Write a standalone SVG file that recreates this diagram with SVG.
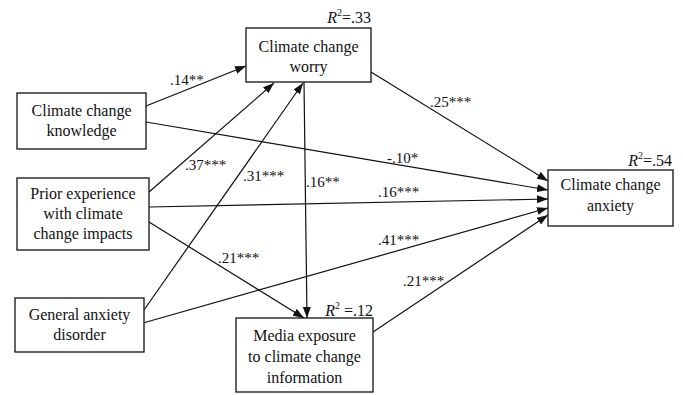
<svg xmlns="http://www.w3.org/2000/svg" width="683" height="395" viewBox="0 0 683 395">
<style>
.box{fill:#fff;stroke:#111;stroke-width:1.3}
text{font-family:'Liberation Serif','DejaVu Serif','Times New Roman',serif;fill:#111}
.t{font-size:16px;text-anchor:middle}
.lab{font-size:15px}
.r2{font-size:16px;text-anchor:end}
.c{stroke:#111;stroke-width:1.2;fill:none;marker-end:url(#ah)}
</style>
<defs>
<marker id="ah" markerUnits="userSpaceOnUse" markerWidth="11" markerHeight="8" refX="11" refY="4" orient="auto">
<path d="M0,0 L11,4 L0,8 z" fill="#111"/>
</marker>
</defs>
<rect width="683" height="395" fill="#fff"/>
<g id="connectors" font-family="Liberation Serif, DejaVu Serif, serif">
<path class="c" d="M146,106 L246,66"/>
<path class="c" d="M149,192 L274,83"/>
<path class="c" d="M144,310 L303,83"/>
<path class="c" d="M304,82 L307,318"/>
<path class="c" d="M371,72 L548,181"/>
<path class="c" d="M146,122 L548,190"/>
<path class="c" d="M149,207 L548,199"/>
<path class="c" d="M143,323 L548,208"/>
<path class="c" d="M149,222 L304,318"/>
<path class="c" d="M373,332 L548,215"/>
<text class="lab" x="170" y="85">.14**</text>
<text class="lab" x="185" y="170">.37***</text>
<text class="lab" x="243" y="181">.31***</text>
<text class="lab" x="306" y="187">.16**</text>
<text class="lab" x="430" y="107">.25***</text>
<text class="lab" x="387" y="163">-.10*</text>
<text class="lab" x="378" y="197">.16***</text>
<text class="lab" x="378" y="245">.41***</text>
<text class="lab" x="218" y="263">.21***</text>
<text class="lab" x="403" y="286">.21***</text>
</g>
<g id="worry" font-family="Liberation Serif, DejaVu Serif, serif">
<rect class="box" x="246" y="28" width="125" height="54"/>
<text class="t" x="308.5" y="52">Climate change</text>
<text class="t" x="308.5" y="72">worry</text>
<text class="r2" x="371" y="23"><tspan font-style="italic">R</tspan><tspan font-size="10" dy="-7">2</tspan><tspan dy="7">=.33</tspan></text>
</g>
<g id="knowledge" font-family="Liberation Serif, DejaVu Serif, serif">
<rect class="box" x="17" y="93" width="129" height="56"/>
<text class="t" x="81.5" y="116">Climate change</text>
<text class="t" x="81.5" y="136">knowledge</text>
</g>
<g id="prior" font-family="Liberation Serif, DejaVu Serif, serif">
<rect class="box" x="17" y="178" width="132" height="72"/>
<text class="t" x="83" y="199">Prior experience</text>
<text class="t" x="83" y="219">with climate</text>
<text class="t" x="83" y="239">change impacts</text>
</g>
<g id="gad" font-family="Liberation Serif, DejaVu Serif, serif">
<rect class="box" x="15" y="298" width="129" height="54"/>
<text class="t" x="79.5" y="320">General anxiety</text>
<text class="t" x="79.5" y="340">disorder</text>
</g>
<g id="media" font-family="Liberation Serif, DejaVu Serif, serif">
<rect class="box" x="236" y="318" width="137" height="74"/>
<text class="t" x="304.5" y="341">Media exposure</text>
<text class="t" x="304.5" y="362">to climate change</text>
<text class="t" x="304.5" y="383">information</text>
<text class="r2" x="373" y="316"><tspan font-style="italic">R</tspan><tspan font-size="10" dy="-7">2</tspan><tspan dy="7"> =.12</tspan></text>
</g>
<g id="anxiety" font-family="Liberation Serif, DejaVu Serif, serif">
<rect class="box" x="548" y="170" width="125" height="56"/>
<text class="t" x="610.5" y="190">Climate change</text>
<text class="t" x="610.5" y="211">anxiety</text>
<text class="r2" x="672" y="166"><tspan font-style="italic">R</tspan><tspan font-size="10" dy="-7">2</tspan><tspan dy="7">=.54</tspan></text>
</g>
</svg>
